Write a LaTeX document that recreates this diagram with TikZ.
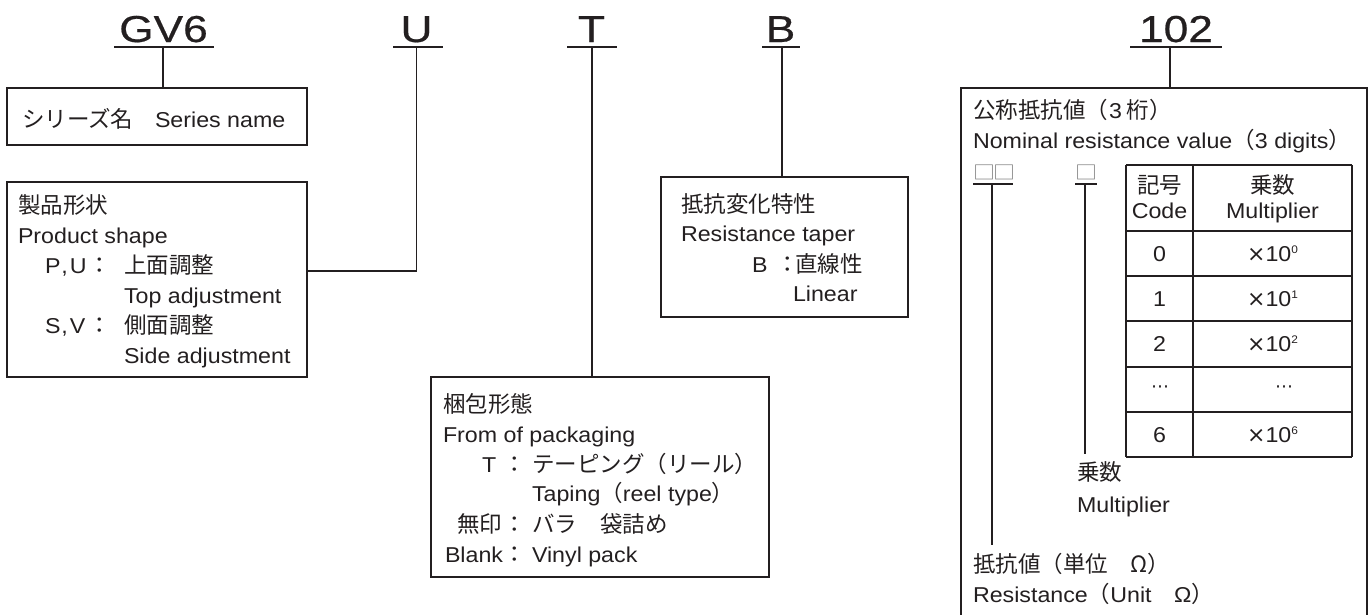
\documentclass[tikz,border=0pt]{standalone}
\usepackage{fontspec}
\setmainfont{Liberation Sans}[FakeStretch=1.08]
\newfontfamily\jpf{Noto Sans CJK JP}
\newfontfamily\labf{Liberation Sans}[FakeStretch=1.18,FakeBold=0.5]
\newfontfamily\dvsf{DejaVu Sans}
\newcommand\J[1]{{\fontsize{22.5}{26}\jpf #1}}
\newcommand\supx[1]{\raisebox{8pt}{\fontsize{11}{11}\selectfont #1}}
\newcommand\tms{{\fontsize{22}{24}\dvsf ×}}
\definecolor{ink}{RGB}{35,31,32}
\definecolor{sqc}{RGB}{125,125,125}
\begin{document}
\begin{tikzpicture}[x=1pt,y=-1pt,
  every node/.style={inner sep=0pt, outer sep=0pt, text=ink},
  box/.style={draw=ink, line width=1.8pt, anchor=north west, rectangle},
  conn/.style={draw=ink, line width=1.8pt},
  lab/.style={anchor=base, font=\fontsize{37.5}{40}\labf},
  tx/.style={anchor=base west, font=\fontsize{21.5}{24}\selectfont},
  txc/.style={anchor=base, font=\fontsize{21.5}{24}\selectfont},
  jx/.style={anchor=base west, font=\fontsize{22.5}{26}\jpf},
  jxc/.style={anchor=base, font=\fontsize{22.5}{26}\jpf},
  sqn/.style={anchor=center, text=sqc, font=\fontsize{22}{24}\jpf},
  dots/.style={anchor=center, font=\fontsize{18}{20}\dvsf},
]
\useasboundingbox (0,0) rectangle (1370,614);

% ---------- code labels ----------
\node[lab] (gv6) at (163.5,42) {GV6};
\node[lab] (lu)  at (416.5,42) {U};
\node[lab] (lt)  at (591.5,42) {T};
\node[lab] (lb)  at (780.5,42) {B};
\node[lab] (l102) at (1176,42) {102};
\draw[conn] (114,47) -- (214,47);
\draw[conn] (393,47) -- (443,47);
\draw[conn] (567,47) -- (617,47);
\draw[conn] (762,47) -- (800,47);
\draw[conn] (1130,47) -- (1222,47);
\coordinate (gv6s) at (163,47);
\coordinate (us) at (416.5,47);
\coordinate (ts) at (592,47);
\coordinate (bs) at (782,47);
\coordinate (s102) at (1170,47);

% ---------- boxes ----------
\node[box, minimum width=300pt, minimum height=57pt] (box1) at (7,88) {};
\node[box, minimum width=300pt, minimum height=195pt] (box2) at (7,182) {};
\node[box, minimum width=338pt, minimum height=200pt] (box3) at (431,377) {};
\node[box, minimum width=247pt, minimum height=140pt] (box4) at (661,177) {};
\coordinate (b5tl) at (961,88);
\coordinate (b5tr) at (1367,88);
\draw[conn] (961,616) -- (b5tl) -- (b5tr) -- (1367,616);

% ---------- connectors ----------
\coordinate (ujoin) at (307,271);
\draw[conn] (gv6s) -- (gv6s |- box1.north);
\draw[conn] (us) |- (ujoin);
\draw[conn] (ts) -- (ts |- box3.north);
\draw[conn] (bs) -- (bs |- box4.north);
\draw[conn] (s102) -- (s102 |- b5tl);

% ---------- box 1 ----------
\node[jx] (t11) at (22,127) {シリーズ名};
\node[tx] (t12) at (155,127) {Series name};

% ---------- box 2 ----------
\node[jx] (t21) at (18,213) {製品形状};
\node[tx] (t22) at (18,243) {Product shape};
\node[tx] (t23a) at (45,273) {P\kern1pt,\kern2pt U};
\node[jxc] (t23b) at (100,273) {：};
\node[jx] (t23c) at (124,273) {上面調整};
\node[tx] (t24) at (124,303) {Top adjustment};
\node[tx] (t25a) at (45,333) {S\kern1pt,\kern2pt V};
\node[jxc] (t25b) at (100,333) {：};
\node[jx] (t25c) at (124,333) {側面調整};
\node[tx] (t26) at (124,363) {Side adjustment};

% ---------- box 3 ----------
\node[jx] (t31) at (443,412) {梱包形態};
\node[tx] (t32) at (443,442) {From of packaging};
\node[tx] (t33a) at (482,472) {T};
\node[jxc] (t33b) at (515,472) {：};
\node[jx] (t33c) at (532,472) {テーピング（リール）};
\node[tx] (t34) at (532,501) {Taping\J{（}reel type\J{）}};
\node[jx] (t35a) at (457,532) {無印};
\node[jxc] (t35b) at (515,532) {：};
\node[jx] (t35c) at (532,532) {バラ};
\node[jx] (t35d) at (600,532) {袋詰め};
\node[tx] (t36a) at (445,562) {Blank};
\node[jxc] (t36b) at (515,562) {：};
\node[tx] (t36c) at (532,562) {Vinyl pack};

% ---------- box 4 ----------
\node[jx] (t41) at (681,212) {抵抗変化特性};
\node[tx] (t42) at (681,241) {Resistance taper};
\node[tx] (t43a) at (752,272) {B};
\node[jxc] (t43b) at (788,272) {：};
\node[jx] (t43c) at (795,272) {直線性};
\node[tx] (t44) at (793,301) {Linear};

% ---------- box 5 ----------
\node[jx] (t51) at (973,118) {公称抵抗値（\kern1pt{\fontsize{21.5}{24}\selectfont\rmfamily 3}\kern5pt 桁）};
\node[tx] (t52) at (973,148) {Nominal resistance value\J{（}3 digits\J{）}};
\node[sqn] (sq1a) at (984,172.5) {\scalebox{1}[0.85]{□}};
\node[sqn] (sq1b) at (1004,172.5) {\scalebox{1}[0.85]{□}};
\node[sqn] (sq2) at (1086,172.5) {\scalebox{1}[0.85]{□}};
\coordinate (u1l) at (973,184);
\coordinate (u1r) at (1013,184);
\coordinate (u2l) at (1075,184);
\coordinate (u2r) at (1097,184);
\draw[conn] (u1l) -- (u1r);
\draw[conn] (u2l) -- (u2r);
\coordinate (v1t) at (992,184);
\coordinate (v1b) at (992,545);
\coordinate (v2t) at (1085,184);
\coordinate (v2b) at (1085,454);
\draw[conn] (v1t) -- (v1b);
\draw[conn] (v2t) -- (v2b);

% table
\foreach \yy in {165,231,276,321,367,412,457}
  \draw[conn] (1126,\yy) -- (1352,\yy);
\foreach \xx in {1126,1193,1352}
  \draw[conn] (\xx,165) -- (\xx,457);
\node[jxc] (h1a) at (1159.5,193) {記号};
\node[txc] (h1b) at (1159.5,218) {Code};
\node[jxc] (h2a) at (1272.5,193) {乗数};
\node[txc] (h2b) at (1272.5,218) {Multiplier};
\node[txc] (r0a) at (1159.5,261) {0};
\node[txc] (r0b) at (1272.5,261) {\tms 10\supx{0}};
\node[txc] (r1a) at (1159.5,306) {1};
\node[txc] (r1b) at (1272.5,306) {\tms 10\supx{1}};
\node[txc] (r2a) at (1159.5,351.5) {2};
\node[txc] (r2b) at (1272.5,351.5) {\tms 10\supx{2}};
\node[dots] (r3a) at (1160,389.5) {⋯};
\node[dots] (r3b) at (1284,389.5) {⋯};
\node[txc] (r6a) at (1159.5,442) {6};
\node[txc] (r6b) at (1272.5,442) {\tms 10\supx{6}};

\node[jx] (t53) at (1077,480) {乗数};
\node[tx] (t54) at (1077,512) {Multiplier};
\node[jx] (t55) at (973,572) {抵抗値（単位　Ω）};
\node[tx] (t56) at (973,602) {Resistance\J{（}Unit\J{　}Ω\J{）}};
\end{tikzpicture}
\end{document}
